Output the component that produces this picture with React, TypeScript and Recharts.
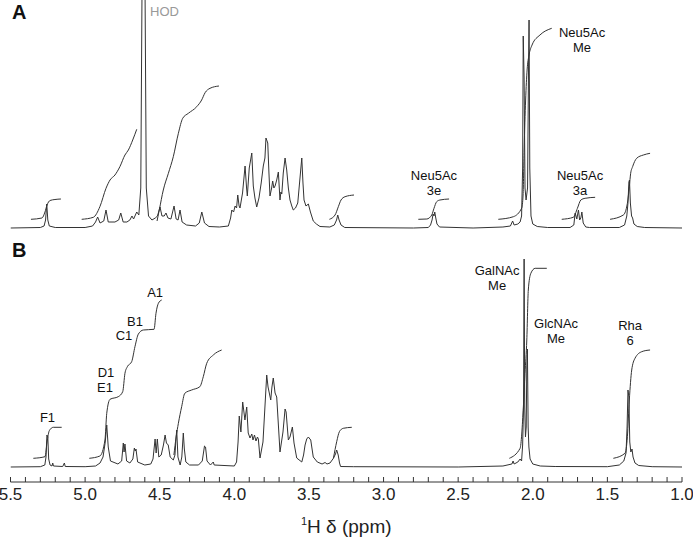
import React from 'react';
import { ComposedChart, Line, XAxis, YAxis, ReferenceDot } from 'recharts';

// [ppm, intensity] pairs, intensity in arbitrary units above each baseline
const spectrumA: [number, number][] = [
  [5.5, 0], [5.3, 0.5], [5.275, 2], [5.265, 8], [5.257, 24], [5.25, 8], [5.24, 2], [5.2, 0.5],
  [5.0, 0.5], [4.95, 2], [4.93, 6], [4.916, 11], [4.9, 5], [4.875, 7], [4.86, 18], [4.845, 6],
  [4.8, 6], [4.775, 8], [4.761, 15], [4.745, 6], [4.72, 6], [4.7, 8], [4.686, 12], [4.675, 9],
  [4.666, 12], [4.654, 16], [4.64, 13], [4.627, 40], [4.616, 300], [4.601, 300], [4.59, 40],
  [4.575, 12], [4.552, 8], [4.53, 10], [4.515, 12], [4.498, 21], [4.485, 12], [4.47, 12],
  [4.458, 15], [4.445, 10], [4.425, 9], [4.404, 22], [4.39, 9], [4.377, 8], [4.364, 18],
  [4.35, 6], [4.32, 3], [4.26, 2], [4.235, 5], [4.218, 16], [4.2, 5], [4.17, 1.5], [4.1, 1],
  [4.04, 2], [4.025, 10], [4.017, 18], [4.005, 16], [3.995, 22], [3.985, 20], [3.977, 33],
  [3.968, 22], [3.962, 20], [3.945, 35], [3.928, 62], [3.918, 40], [3.913, 32], [3.9, 60],
  [3.883, 75], [3.873, 42], [3.862, 30], [3.85, 21], [3.835, 30], [3.82, 45], [3.806, 62],
  [3.795, 70], [3.788, 90], [3.776, 85], [3.768, 55], [3.761, 32], [3.75, 40], [3.743, 47],
  [3.735, 40], [3.727, 42], [3.716, 48], [3.705, 56], [3.694, 28], [3.688, 36], [3.682, 34],
  [3.672, 55], [3.66, 70], [3.649, 58], [3.638, 40], [3.627, 28], [3.615, 22], [3.605, 18],
  [3.59, 20], [3.575, 25], [3.56, 50], [3.548, 70], [3.54, 45], [3.533, 28], [3.52, 22],
  [3.504, 24], [3.49, 16], [3.471, 7], [3.45, 4], [3.426, 1.5], [3.36, 1], [3.33, 3],
  [3.315, 8], [3.307, 13], [3.298, 8], [3.285, 3], [3.26, 0.5], [2.8, 0], [2.7, 0.5],
  [2.685, 3], [2.675, 8], [2.668, 14], [2.662, 12], [2.657, 16], [2.65, 10], [2.642, 4],
  [2.625, 1], [2.4, 0], [2.2, 1], [2.15, 2], [2.135, 7], [2.125, 3], [2.1, 4], [2.085, 6],
  [2.075, 12], [2.068, 60], [2.064, 192], [2.058, 150], [2.052, 40], [2.045, 28], [2.035, 40],
  [2.029, 150], [2.025, 208], [2.02, 60], [2.012, 12], [2.0, 4], [1.97, 1.5], [1.9, 0.5],
  [1.75, 0.5], [1.725, 3], [1.716, 15], [1.705, 9], [1.694, 18], [1.686, 8], [1.678, 10],
  [1.671, 16], [1.662, 5], [1.645, 1], [1.62, 0.5], [1.42, 0.5], [1.385, 3], [1.37, 12],
  [1.362, 25], [1.356, 46], [1.352, 48], [1.346, 25], [1.338, 12], [1.331, 10], [1.322, 4],
  [1.3, 1.5], [1.25, 0.5], [1.0, 0],
];

const spectrumB: [number, number][] = [
  [5.5, 0], [5.3, 0.3], [5.27, 2], [5.262, 10], [5.256, 32], [5.25, 30], [5.244, 8], [5.235, 2],
  [5.222, 1], [5.217, 4], [5.212, 1], [5.15, 0.5], [5.139, 4], [5.133, 0.5], [5.0, 0.3],
  [4.93, 1], [4.9, 4], [4.88, 10], [4.865, 25], [4.855, 42], [4.845, 20], [4.83, 6], [4.78, 3],
  [4.755, 6], [4.744, 24], [4.739, 15], [4.733, 23], [4.722, 6], [4.7, 4], [4.68, 8],
  [4.67, 19], [4.664, 16], [4.659, 18], [4.648, 5], [4.6, 2], [4.56, 3], [4.545, 8],
  [4.531, 28], [4.524, 14], [4.516, 28], [4.506, 10], [4.49, 12], [4.475, 22], [4.464, 32],
  [4.455, 24], [4.443, 22], [4.43, 10], [4.409, 7], [4.398, 12], [4.39, 30], [4.386, 37],
  [4.378, 10], [4.363, 2], [4.352, 10], [4.342, 34], [4.335, 18], [4.325, 5], [4.3, 2],
  [4.24, 2], [4.215, 6], [4.2, 21], [4.193, 20], [4.183, 6], [4.16, 2], [4.141, 5],
  [4.135, 2], [4.0, 1], [3.985, 5], [3.975, 25], [3.967, 51], [3.956, 35], [3.944, 65],
  [3.929, 47], [3.917, 60], [3.907, 34], [3.895, 29], [3.883, 33], [3.875, 27], [3.865, 32],
  [3.855, 26], [3.845, 30], [3.839, 28], [3.828, 9], [3.808, 25], [3.795, 60], [3.783, 92],
  [3.774, 80], [3.756, 67], [3.748, 80], [3.739, 89], [3.727, 74], [3.716, 70], [3.704, 40],
  [3.694, 15], [3.674, 35], [3.66, 58], [3.653, 55], [3.638, 27], [3.627, 30], [3.611, 40],
  [3.6, 24], [3.582, 9], [3.548, 5], [3.536, 12], [3.526, 22], [3.515, 28], [3.504, 30],
  [3.488, 27], [3.479, 18], [3.471, 10], [3.444, 5], [3.412, 3], [3.392, 4.5], [3.379, 3],
  [3.359, 4], [3.336, 8.7], [3.322, 13], [3.314, 17], [3.304, 12], [3.295, 4], [3.288, 0.5],
  [3.2, 0.3], [2.5, 0], [2.2, 1], [2.14, 3], [2.132, 6], [2.125, 3], [2.1, 5], [2.085, 8],
  [2.075, 6], [2.068, 22], [2.062, 60], [2.058, 208], [2.054, 60], [2.049, 30], [2.044, 40],
  [2.04, 100], [2.036, 118], [2.031, 40], [2.026, 20], [2.018, 8], [2.0, 3], [1.95, 1],
  [1.85, 0.5], [1.5, 0.3], [1.42, 2], [1.39, 6], [1.375, 14], [1.368, 40], [1.362, 77],
  [1.356, 70], [1.35, 25], [1.343, 15], [1.335, 18], [1.328, 10], [1.315, 4], [1.29, 1.5],
  [1.2, 0.3], [1.0, 0],
];

// integral traces
const integralsA: [number, number][][] = [
  [[5.363, 8.7], [5.289, 10], [5.269, 16], [5.255, 23], [5.235, 27.5], [5.202, 28.5], [5.162, 29]],
  [[5.023, 8.7], [4.945, 10.7], [4.901, 21.3], [4.86, 39.7], [4.833, 48], [4.8, 53], [4.767, 61.3],
    [4.733, 73], [4.71, 78], [4.681, 88], [4.654, 98.7]],
  [[4.518, 7], [4.503, 18], [4.476, 38], [4.442, 54.7], [4.409, 71.3], [4.375, 94.7], [4.346, 109.7],
    [4.308, 114.7], [4.252, 121.3], [4.219, 128], [4.196, 135.3], [4.163, 139.7], [4.103, 142]],
  [[3.363, 8.7], [3.325, 13], [3.303, 21.3], [3.285, 28], [3.258, 31.3], [3.198, 33]],
  [[2.767, 8.7], [2.71, 9], [2.677, 13], [2.662, 19.7], [2.644, 26.3], [2.622, 28], [2.561, 29]],
  [[2.231, 8.7], [2.13, 11.3], [2.074, 20], [2.065, 33], [2.058, 78], [2.048, 128], [2.038, 158],
    [2.025, 173], [2.005, 183], [1.952, 193], [1.873, 199.7]],
  [[1.806, 8.7], [1.728, 10.7], [1.701, 19.7], [1.678, 28], [1.649, 29.7], [1.582, 30.7]],
  [[1.482, 8.7], [1.393, 13], [1.366, 24.7], [1.353, 41.3], [1.344, 54.7], [1.331, 61.3],
    [1.304, 69.7], [1.259, 73], [1.214, 74.7]],
];

const integralsB: [number, number][][] = [
  [[5.347, 8.7], [5.269, 10.3], [5.253, 27], [5.24, 36.3], [5.213, 39.7], [5.157, 39.7]],
  [[4.972, 8.7], [4.901, 11], [4.867, 27], [4.855, 53.7], [4.833, 67.7], [4.778, 70.3],
    [4.748, 75.3], [4.733, 93.7], [4.717, 100.3], [4.688, 105.3], [4.666, 120.3], [4.643, 133],
    [4.61, 137], [4.538, 137.7], [4.525, 153.7], [4.509, 163.7], [4.487, 167]],
  [[4.405, 12], [4.39, 30], [4.375, 43.7], [4.353, 60.3], [4.332, 73.7], [4.286, 77], [4.231, 80.3],
    [4.208, 90.3], [4.185, 103.7], [4.141, 112], [4.085, 117]],
  [[3.336, 8.7], [3.314, 25.3], [3.296, 35.3], [3.27, 38.7], [3.213, 39.7]],
  [[2.157, 8.7], [2.085, 18.7], [2.063, 60.3], [2.052, 93.7], [2.04, 127], [2.03, 177],
    [2.013, 193.7], [1.984, 198.7], [1.906, 198.7]],
  [[1.46, 8.7], [1.382, 13.7], [1.366, 30.3], [1.353, 67], [1.337, 97], [1.315, 108.7],
    [1.27, 115.3], [1.214, 117]],
];

const majorTicks = [5.5, 5.0, 4.5, 4.0, 3.5, 3.0, 2.5, 2.0, 1.5, 1.0];
const minorTicks = [
  5.4, 5.3, 5.2, 5.1, 4.9, 4.8, 4.7, 4.6, 4.4, 4.3, 4.2, 4.1, 3.9, 3.8, 3.7, 3.6, 3.4, 3.3, 3.2, 3.1,
  2.9, 2.8, 2.7, 2.6, 2.4, 2.3, 2.2, 2.1, 1.9, 1.8, 1.7, 1.6, 1.4, 1.3, 1.2, 1.1,
];

type Note = { lines: string[]; ppm: number; h: number; panel: 'a' | 'b'; color?: string; anchor?: 'start' | 'middle'; bold?: boolean };
const notes: Note[] = [
  { lines: ['A'], ppm: 5.49, h: 209, panel: 'a', anchor: 'start', bold: true },
  { lines: ['HOD'], ppm: 4.565, h: 212, panel: 'a', anchor: 'start', color: '#999' },
  { lines: ['Neu5Ac', 'Me'], ppm: 1.67, h: 191, panel: 'a' },
  { lines: ['Neu5Ac', '3e'], ppm: 2.662, h: 48, panel: 'a' },
  { lines: ['Neu5Ac', '3a'], ppm: 1.683, h: 48, panel: 'a' },
  { lines: ['B'], ppm: 5.49, h: 210, panel: 'b', anchor: 'start', bold: true },
  { lines: ['A1'], ppm: 4.531, h: 170, panel: 'b' },
  { lines: ['B1'], ppm: 4.666, h: 141, panel: 'b' },
  { lines: ['C1'], ppm: 4.739, h: 127, panel: 'b' },
  { lines: ['D1'], ppm: 4.86, h: 90, panel: 'b' },
  { lines: ['E1'], ppm: 4.867, h: 75, panel: 'b' },
  { lines: ['F1'], ppm: 5.252, h: 45, panel: 'b' },
  { lines: ['GalNAc', 'Me'], ppm: 2.239, h: 192, panel: 'b' },
  { lines: ['GlcNAc', 'Me'], ppm: 1.844, h: 139, panel: 'b' },
  { lines: ['Rha', '6'], ppm: 1.348, h: 137, panel: 'b' },
];

const FONT = '"Liberation Sans", Arial, Helvetica, sans-serif';
const INK = '#333';
const toPts = (arr: [number, number][]) => arr.map(([x, y]) => ({ x, y }));
const majorSet = new Set(majorTicks.map((t) => t.toFixed(1)));

function AxisTick(props: any) {
  const { x, y, payload } = props;
  const major = majorSet.has(Number(payload.value).toFixed(1));
  return (
    <g>
      <line x1={x} x2={x} y1={y} y2={y - 5} stroke={INK} strokeWidth={1} />
      {major && (
        <text x={x} y={y + 18} textAnchor="middle" fontSize={17} fontFamily={FONT} fill="#222">
          {Number(payload.value).toFixed(1)}
        </text>
      )}
    </g>
  );
}

function noteLabel(n: Note) {
  return (props: any) => {
    const vb = props.viewBox || {};
    const cx = (vb.x ?? 0) + (vb.width ?? 0) / 2;
    const cy = (vb.y ?? 0) + (vb.height ?? 0) / 2;
    return (
      <text
        x={cx}
        y={cy}
        textAnchor={n.anchor ?? 'middle'}
        fontSize={n.bold ? 20 : 13}
        fontWeight={n.bold ? 'bold' : 'normal'}
        fontFamily={FONT}
        fill={n.color ?? '#111'}
      >
        {n.lines.map((t, i) => (
          <tspan key={i} x={cx} dy={i === 0 ? 0 : 15}>
            {t}
          </tspan>
        ))}
      </text>
    );
  };
}

function AxisTitle(props: any) {
  const vb = props.viewBox || {};
  const cx = vb.x + vb.width / 2;
  return (
    <text x={cx} y={vb.y + 51} textAnchor="middle" fontSize={19} fontFamily={FONT} fill="#222">
      <tspan fontSize={11} dy={-8}>1</tspan>
      <tspan dy={8}>H δ (ppm)</tspan>
    </text>
  );
}

export default function App() {
  return (
    <div style={{ position: 'absolute', left: 0, top: 0, background: '#fff' }}>
      <ComposedChart width={693} height={538} margin={{ top: 0, right: 11, bottom: 0, left: 10.5 }}>
        <XAxis
          dataKey="x"
          type="number"
          domain={[1.0, 5.5]}
          reversed
          allowDataOverflow
          ticks={[...majorTicks, ...minorTicks].sort((a, b) => b - a)}
          interval={0}
          height={56}
          tickSize={0}
          tickMargin={0}
          tickLine={false}
          stroke={INK}
          tick={(p: any) => <AxisTick {...p} />}
          label={{ content: (p: any) => <AxisTitle {...p} /> }}
        />
        <YAxis yAxisId="a" hide type="number" domain={[-254, 228]} allowDataOverflow />
        <YAxis yAxisId="b" hide type="number" domain={[-15, 467]} allowDataOverflow />

        <Line yAxisId="a" data={toPts(spectrumA)} dataKey="y" type="linear" stroke={INK}
          strokeWidth={1} dot={false} isAnimationActive={false} />
        <Line yAxisId="b" data={toPts(spectrumB)} dataKey="y" type="linear" stroke={INK}
          strokeWidth={1} dot={false} isAnimationActive={false} />

        {integralsA.map((seg, i) => (
          <Line key={'ia' + i} yAxisId="a" data={toPts(seg)} dataKey="y" type="monotone"
            stroke={INK} strokeWidth={1} dot={false} isAnimationActive={false} />
        ))}
        {integralsB.map((seg, i) => (
          <Line key={'ib' + i} yAxisId="b" data={toPts(seg)} dataKey="y" type="monotone"
            stroke={INK} strokeWidth={1} dot={false} isAnimationActive={false} />
        ))}

        {notes.map((n, i) => (
          <ReferenceDot key={'n' + i} yAxisId={n.panel} x={n.ppm} y={n.h} r={0}
            fill="none" stroke="none" ifOverflow="visible" label={{ content: noteLabel(n) }} />
        ))}
      </ComposedChart>
    </div>
  );
}
